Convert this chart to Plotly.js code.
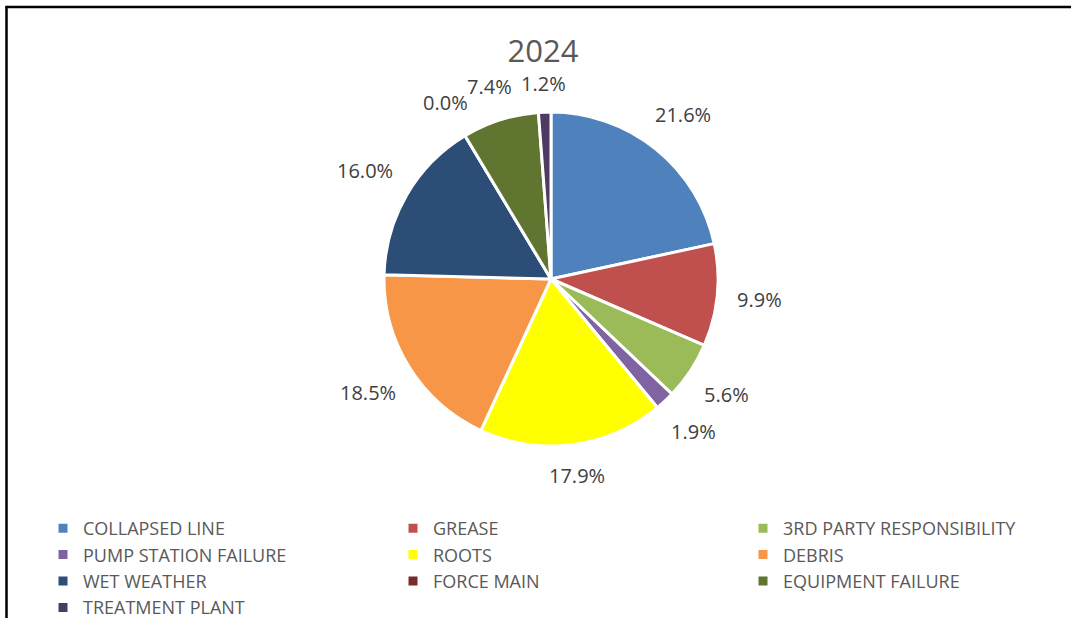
<!DOCTYPE html>
<html>
<head>
<meta charset="utf-8">
<script src="https://cdn.plot.ly/plotly-3.0.1.min.js"></script>
<style>
html,body{margin:0;padding:0;background:#fff;overflow:hidden;width:1071px;height:618px;}
#chart{width:1110px;height:650px;}
</style>
</head>
<body>
<div id="chart"></div>
<script>
const categories = ["COLLAPSED LINE","GREASE","3RD PARTY RESPONSIBILITY","PUMP STATION FAILURE","ROOTS","DEBRIS","WET WEATHER","FORCE MAIN","EQUIPMENT FAILURE","TREATMENT PLANT"];
const shares = [21.6, 9.9, 5.6, 1.9, 17.9, 18.5, 16.0, 0.0, 7.4, 1.2];
const colors = ["#4F81BD","#C0504D","#9BBB59","#8064A2","#FFFF00","#F79646","#2C4D75","#772C2A","#5F7530","#4D3B62"];
const chartTitle = "2024";

const FONT = 'Open Sans, Liberation Sans, sans-serif';
// layout is a bit larger than the 1071x618 viewport so the legend may reach the edges
const W = 1110, H = 650;
const cx = 551, cy = 279, r = 167; // pie centre and radius in pixels
const labelSize = 20;

const px = x => x / W;
const py = y => 1 - y / H;

const trace = {
  type: 'pie',
  labels: categories,
  values: shares,
  sort: false,
  direction: 'clockwise',
  rotation: 0,
  marker: {colors: colors, line: {color: '#ffffff', width: 3}},
  textinfo: 'none',
  hoverinfo: 'label+percent',
  automargin: false,
  domain: {x: [px(cx - r), px(cx + r)], y: [py(cy + r), py(cy - r)]}
};

// data labels: percentage of each slice, placed outside at the slice's mid-angle
const total = shares.reduce((a, b) => a + b, 0);
const annotations = [];
let cum = 0;
shares.forEach((v, i) => {
  const mid = (cum + v / 2) / total * 2 * Math.PI;
  cum += v;
  const s = Math.sin(mid), c = Math.cos(mid);
  const txt = (v / total * 100).toFixed(1) + '%';
  const hw = txt.length * 0.29 * labelSize, hh = 0.5 * labelSize;
  const d = r + 18 + Math.abs(s) * hw + Math.abs(c) * hh;
  annotations.push({
    xref: 'paper', yref: 'paper',
    x: px(cx + d * s), y: py(cy - d * c),
    xanchor: 'center', yanchor: 'middle',
    text: txt, showarrow: false,
    font: {family: FONT, size: labelSize, color: '#404040'}
  });
});

const layout = {
  width: W, height: H,
  margin: {l: 0, r: 0, t: 0, b: 0},
  paper_bgcolor: '#ffffff',
  title: {text: chartTitle, x: px(543), xanchor: 'center', y: py(51), yanchor: 'middle',
          font: {family: FONT, size: 31, color: '#595959'}},
  showlegend: true,
  legend: {orientation: 'h', x: px(43), xanchor: 'left', y: py(510), yanchor: 'top',
           entrywidth: 305, entrywidthmode: 'pixels', traceorder: 'normal',
           font: {family: FONT, size: 18, color: '#595959'},
           itemclick: false, itemdoubleclick: false},
  annotations: annotations,
  shapes: [
    {type: 'line', xref: 'paper', yref: 'paper', x0: px(5.5), x1: px(1071), y0: py(7), y1: py(7), line: {color: '#000', width: 2.5}},
    {type: 'line', xref: 'paper', yref: 'paper', x0: px(6.5), x1: px(6.5), y0: 0, y1: py(6), line: {color: '#000', width: 2.5}}
  ]
};

Plotly.newPlot('chart', [trace], layout, {displayModeBar: false});
</script>
</body>
</html>
